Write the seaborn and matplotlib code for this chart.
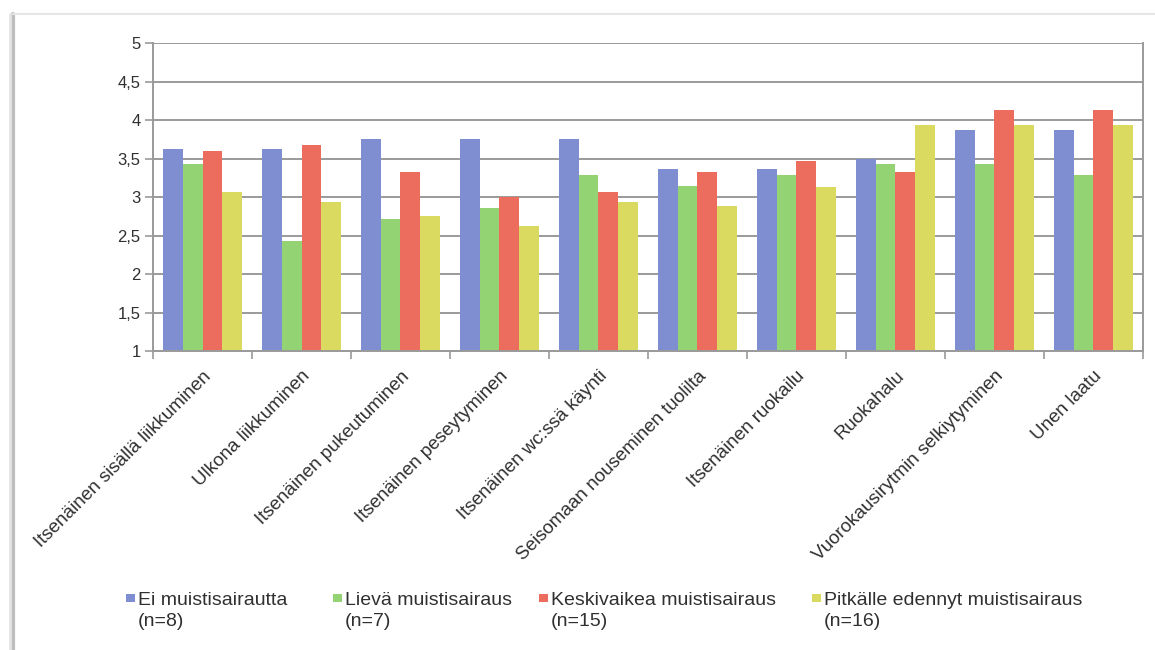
import matplotlib
matplotlib.use("Agg")
import matplotlib.pyplot as plt
from matplotlib.lines import Line2D
from matplotlib.patches import Rectangle
from matplotlib.ticker import FixedLocator, FuncFormatter
import numpy as np
import pandas as pd
import seaborn as sns

categories = [
    "Itsenäinen sisällä liikkuminen",
    "Ulkona liikkuminen",
    "Itsenäinen pukeutuminen",
    "Itsenäinen peseytyminen",
    "Itsenäinen wc:ssä käynti",
    "Seisomaan nouseminen tuolilta",
    "Itsenäinen ruokailu",
    "Ruokahalu",
    "Vuorokausirytmin selkiytyminen",
    "Unen laatu",
]

groups = [
    "Ei muistisairautta\n(n=8)",
    "Lievä muistisairaus\n(n=7)",
    "Keskivaikea muistisairaus\n(n=15)",
    "Pitkälle edennyt muistisairaus\n(n=16)",
]

ei_muistisairautta = [3.63, 3.63, 3.75, 3.75, 3.75, 3.37, 3.37, 3.50, 3.87, 3.87]
lieva = [3.43, 2.43, 2.71, 2.86, 3.29, 3.14, 3.29, 3.43, 3.43, 3.29]
keskivaikea = [3.60, 3.67, 3.33, 3.00, 3.07, 3.33, 3.47, 3.33, 4.13, 4.13]
pitkalle_edennyt = [3.06, 2.94, 2.75, 2.62, 2.94, 2.88, 3.13, 3.94, 3.94, 3.94]

colors = ["#7F8ED1", "#94D373", "#EC6D5D", "#DADA60"]

series = [ei_muistisairautta, lieva, keskivaikea, pitkalle_edennyt]
df = pd.DataFrame({
    "kategoria": np.tile(categories, len(groups)),
    "ryhmä": np.repeat(groups, len(categories)),
    "arvo": np.concatenate(series),
})

sns.set_theme(style="white")
plt.rcParams["font.family"] = ["Liberation Sans", "DejaVu Sans"]
text_color = "#303030"
grid_color = "#9A9A9A"

W, H = 1155, 650
fig = plt.figure(figsize=(W / 100, H / 100), dpi=100)
ax = fig.add_axes([0.1325, 0.46, 0.857, 0.4738])

sns.barplot(
    data=df, x="kategoria", y="arvo", hue="ryhmä",
    order=categories, hue_order=groups, palette=colors,
    width=0.8, saturation=1, ax=ax, legend=False,
    edgecolor="none", linewidth=0,
)

ax.set_ylim(1, 5)
ax.set_xlim(-0.5, len(categories) - 0.5)
ax.set_yticks(np.arange(1, 5.01, 0.5))
ax.yaxis.set_major_formatter(FuncFormatter(
    lambda v, _: (f"{v:g}").replace(".", ",")))
ax.set_xlabel("")
ax.set_ylabel("")

ax.yaxis.grid(True, color=grid_color, linewidth=1.4)
ax.set_axisbelow(True)

for side in ["left", "bottom", "right"]:
    ax.spines[side].set_visible(True)
    ax.spines[side].set_color(grid_color)
    ax.spines[side].set_linewidth(1.4)
ax.spines["top"].set_visible(False)

ax.tick_params(axis="y", which="major", left=True, length=6, width=1.2,
               color=grid_color, labelsize=12, labelcolor=text_color, pad=3)
ax.tick_params(axis="x", which="major", bottom=False, labelsize=13.5,
               labelcolor=text_color, pad=6)
ax.xaxis.set_minor_locator(FixedLocator(np.arange(-0.5, len(categories), 1.0)))
ax.tick_params(axis="x", which="minor", bottom=True, length=6, width=1.2,
               color=grid_color)

for lbl in ax.get_xticklabels():
    lbl.set_rotation(45)
    lbl.set_ha("right")
    lbl.set_va("top")
    lbl.set_rotation_mode("anchor")

# legend row below the category labels: a small colour square beside each
# two-line entry, the square level with the first line
legend_x = [126, 333, 539, 812]
legend_top = 592
square = 8.5
for x, label, c in zip(legend_x, groups, colors):
    fig.add_artist(Rectangle(
        (x / W, 1 - (legend_top + 10) / H), square / W, square / H,
        transform=fig.transFigure, facecolor=c, edgecolor="none"))
    fig.text((x + 12) / W, 1 - legend_top / H, label,
             ha="left", va="top", fontsize=14, color=text_color,
             linespacing=1.3)

# chart frame with a soft shadow along the left and top edges
fig.add_artist(Line2D([0.0113, 0.0113], [0.0, 0.978], transform=fig.transFigure,
                      color="#BEBEBE", linewidth=3.0))
fig.add_artist(Line2D([0.0085, 0.0085], [0.0, 0.978], transform=fig.transFigure,
                      color="#E4E4E4", linewidth=2.0))
fig.add_artist(Line2D([0.011, 1.0], [0.978, 0.978], transform=fig.transFigure,
                      color="#E6E6E6", linewidth=1.5))

fig.savefig("out.png", dpi=100, facecolor="white")
